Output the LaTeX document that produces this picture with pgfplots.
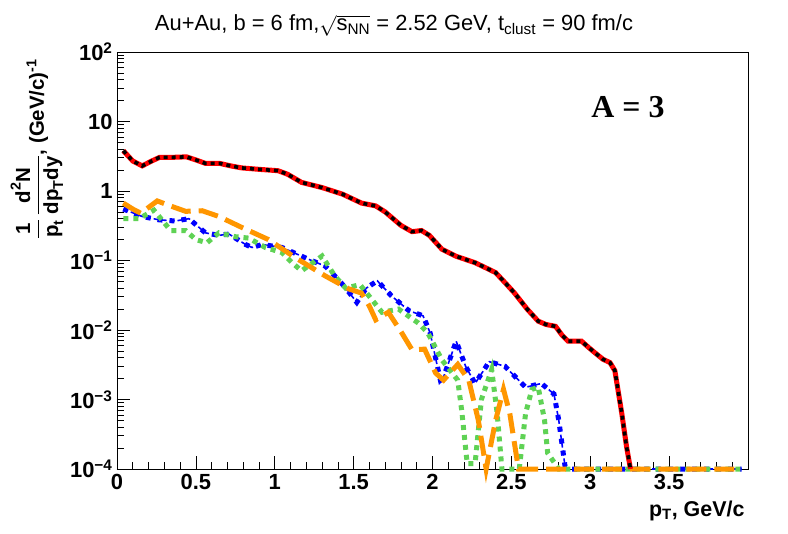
\documentclass[border=0pt]{standalone}
\usepackage{amsmath}
\usepackage{fontspec}
\setmainfont{Liberation Sans}
\newfontfamily\timesfont{Liberation Serif}
\usepackage{pgfplots}
\pgfplotsset{compat=1.18}
\usepackage{pgfplotstable}
\definecolor{cred}{RGB}{255,0,0}
\definecolor{corange}{RGB}{255,150,0}
\definecolor{cgreen}{RGB}{95,210,85}
\definecolor{cblue}{RGB}{0,0,255}

\pgfplotstableread{
x y
0.04 3.8
0.10 2.7
0.16 2.3
0.22 2.7
0.27 3.05
0.35 3.05
0.44 3.1
0.50 2.8
0.56 2.5
0.65 2.5
0.72 2.3
0.79 2.15
0.90 2.05
1.02 1.96
1.08 1.75
1.17 1.33
1.30 1.12
1.43 0.9
1.55 0.67
1.64 0.61
1.70 0.5
1.80 0.32
1.87 0.26
1.93 0.27
1.98 0.23
2.06 0.145
2.15 0.115
2.27 0.093
2.34 0.078
2.40 0.067
2.46 0.048
2.52 0.034
2.60 0.02
2.67 0.0134
2.72 0.012
2.78 0.0113
2.82 0.0085
2.86 0.0069
2.945 0.0069
2.99 0.0056
3.03 0.0047
3.08 0.0038
3.125 0.0034
3.156 0.0026
3.18 0.0012
3.20 0.00063
3.23 0.00021
3.255 0.0001
}\redtab

\pgfplotstableread{
x y
0.04 0.67
0.10 0.55
0.15 0.48
0.20 0.58
0.255 0.72
0.33 0.62
0.435 0.51
0.54 0.52
0.646 0.43
0.79 0.30
0.96 0.20
1.13 0.11
1.32 0.060
1.47 0.039
1.55 0.034
1.60 0.022
1.64 0.014
1.72 0.018
1.805 0.0091
1.87 0.0052
1.95 0.0053
2.02 0.0024
2.07 0.0019
2.16 0.0032
2.23 0.0019
2.29 0.00051
2.34 0.0001
2.40 0.0005
2.45 0.0014
2.49 0.00063
2.545 0.0001
3.96 0.0001
}\orangetab

\pgfplotstableread{
x y
0.04 0.40
0.14 0.40
0.234 0.53
0.34 0.27
0.435 0.27
0.50 0.20
0.57 0.18
0.646 0.25
0.75 0.22
0.835 0.21
0.94 0.154
1.046 0.13
1.11 0.093
1.17 0.071
1.30 0.116
1.38 0.060
1.45 0.040
1.54 0.045
1.68 0.018
1.785 0.020
1.91 0.0126
1.97 0.0091
2.06 0.0037
2.16 0.0019
2.185 0.0007
2.22 0.00012
2.27 0.00012
2.31 0.001
2.375 0.0027
2.41 0.00063
2.44 0.0001
2.55 0.0001
2.59 0.00063
2.63 0.0014
2.67 0.0015
2.71 0.00051
2.73 0.00017
2.80 0.0001
3.96 0.0001
}\greentab

\pgfplotstableread{
x y
0.04 0.55
0.16 0.43
0.266 0.385
0.37 0.37
0.456 0.40
0.56 0.25
0.646 0.23
0.71 0.24
0.815 0.17
0.856 0.154
0.92 0.17
1.046 0.154
1.215 0.104
1.32 0.083
1.40 0.054
1.45 0.040
1.52 0.025
1.58 0.040
1.65 0.051
1.74 0.031
1.85 0.019
1.94 0.016
1.985 0.0091
2.05 0.0019
2.07 0.0021
2.15 0.0069
2.21 0.003
2.27 0.0017
2.36 0.0035
2.46 0.003
2.59 0.0015
2.69 0.0017
2.77 0.0012
2.80 0.00051
2.84 0.00011
2.86 0.0001
3.96 0.0001
}\bluetab

\begin{document}
\begin{tikzpicture}
\useasboundingbox (-117bp,-65bp) rectangle (671bp,469bp);
\begin{axis}[
  at={(0,0)}, anchor=south west,
  scale only axis, width=631bp, height=417bp,
  ymode=log,
  xmin=0, xmax=4, ymin=1e-4, ymax=100,
  xtick={0,0.5,1,1.5,2,2.5,3,3.5},
  xticklabels={0,0.5,1,1.5,2,2.5,3,3.5},
  minor xtick={0.1,0.2,0.3,0.4,0.6,0.7,0.8,0.9,1.1,1.2,1.3,1.4,1.6,1.7,1.8,1.9,2.1,2.2,2.3,2.4,2.6,2.7,2.8,2.9,3.1,3.2,3.3,3.4,3.6,3.7,3.8,3.9},
  ytick={1e-4,1e-3,1e-2,1e-1,1,10,100},
  yticklabels={{10\textsuperscript{−4}},{10\textsuperscript{−3}},{10\textsuperscript{−2}},{10\textsuperscript{−1}},1,10,{10\textsuperscript{2}}},
  xticklabel style={font=\bfseries\fontsize{22}{22}\selectfont, yshift=-2bp},
  yticklabel style={font=\bfseries\fontsize{22}{22}\selectfont, xshift=-1bp},
  tick align=inside,
  xtick pos=left, ytick pos=left,
  major tick length=13bp, minor tick length=7bp,
  tick style={black, line width=0.7bp},
  axis line style={line width=0.8bp},
  clip=false,
]
\addplot[cblue, line width=1.6bp, dash pattern=on 5bp off 3bp] table {\bluetab};
\addplot[cblue, line width=5bp, dash pattern=on 5bp off 7bp] table {\bluetab};
\addplot[cgreen, line width=5bp, dash pattern=on 5bp off 5bp] table {\greentab};
\addplot[corange, line width=5bp, dash pattern=on 20bp off 8bp] table {\orangetab};
\addplot[cred, line width=5bp] table {\redtab};
\addplot[black, line width=3.6bp, dash pattern=on 4bp off 4bp] table {\redtab};
\end{axis}
\node[anchor=base, inner sep=0pt, font=\fontsize{22}{22}\selectfont] at (277bp,438bp)
  {Au+Au, b = 6 fm,$\sqrt{\text{s}_{\text{NN}}}$ = 2.52 GeV, t$_{\text{clust}}$ = 90 fm/c};
\node[anchor=base, font=\timesfont\bfseries\fontsize{32}{32}\selectfont] at (511bp,351bp) {A = 3};
\node[anchor=base east, font=\bfseries\fontsize{21.5}{21.5}\selectfont] at (631bp,-47bp) {p$_{\text{T}}$, GeV/c};
\node[rotate=90, font=\bfseries\fontsize{20.5}{23}\selectfont] at (-80bp,320bp)
  {$\dfrac{\text{1}}{\text{p}_{\text{t}}}\,\dfrac{\text{d}^{\text{2}}\text{N}}{\text{dp}_{\text{T}}\text{dy}}$, (GeV/c)$^{\text{-1}}$};
\end{tikzpicture}
\end{document}
